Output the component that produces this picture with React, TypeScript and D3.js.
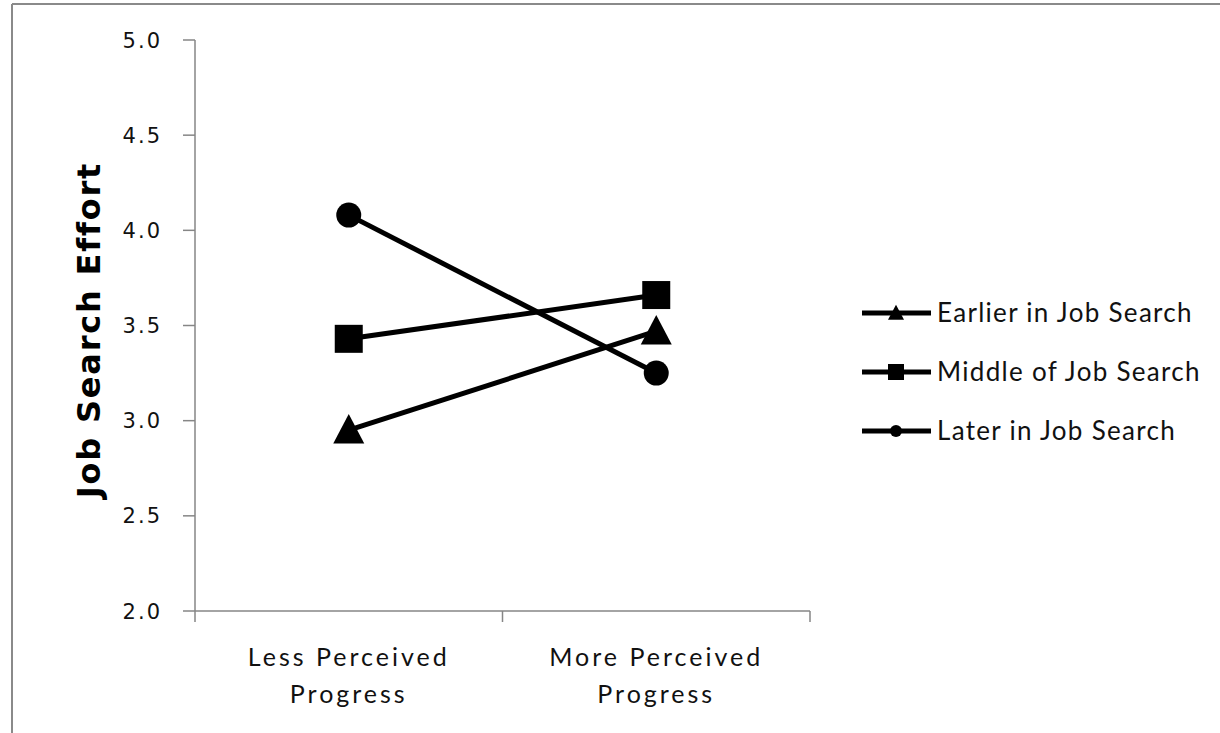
import React from "react";
import * as d3 from "d3";

const categories = ["Less Perceived|Progress", "More Perceived|Progress"];
const seriesNames = ["Earlier in Job Search", "Middle of Job Search", "Later in Job Search"];
const earlierValues = [2.95, 3.47];
const middleValues = [3.43, 3.66];
const laterValues = [4.08, 3.25];
const yTicks = [2.0, 2.5, 3.0, 3.5, 4.0, 4.5, 5.0];
const markerTypes = ["triangle", "square", "circle"];

const W = 1220;
const H = 733;

function Marker({ type, x, y, s }: { type: string; x: number; y: number; s: number }) {
  if (type === "square") {
    return <rect x={x - s / 2} y={y - s / 2} width={s} height={s} fill="#000" />;
  }
  if (type === "circle") {
    return <circle cx={x} cy={y} r={s / 2} fill="#000" />;
  }
  const h = s * 0.95;
  const pts = [
    [x, y - h * 0.55],
    [x + s / 2, y + h * 0.45],
    [x - s / 2, y + h * 0.45],
  ];
  return <polygon points={pts.map((p) => p.join(",")).join(" ")} fill="#000" />;
}

export default function App() {
  const series = [earlierValues, middleValues, laterValues];
  const x = d3.scaleBand<string>().domain(categories).range([195, 810]).padding(0);
  const y = d3.scaleLinear().domain([2, 5]).range([611, 40]);
  const cx = (c: string) => (x(c) as number) + x.bandwidth() / 2;
  const line = d3
    .line<number>()
    .x((_, i) => cx(categories[i]))
    .y((v) => y(v));
  const markerSizes: Record<string, number> = { triangle: 31, square: 28, circle: 25 };
  const legendSizes: Record<string, number> = { triangle: 16, square: 16, circle: 12 };
  const axisColor = "#868686";
  const tickFont = "'DejaVu Sans', Verdana, sans-serif";
  const labelFont = "Lato, 'Open Sans', sans-serif";

  const boundaries = [195, ...categories.map((c) => (x(c) as number) + x.bandwidth())];

  return (
    <svg
      width={W}
      height={H}
      style={{ position: "absolute", left: 0, top: 0, background: "#fff" }}
    >
      <rect x={0} y={0} width={W} height={H} fill="#fff" />
      {/* outer frame */}
      <line x1={12} y1={4} x2={W} y2={4} stroke="#8a8a8a" strokeWidth={2} />
      <line x1={12} y1={4} x2={12} y2={H} stroke="#8a8a8a" strokeWidth={2} />

      {/* y axis */}
      <line x1={195} y1={y(5)} x2={195} y2={y(2)} stroke={axisColor} strokeWidth={1.5} />
      {yTicks.map((t) => (
        <g key={t}>
          <line x1={183} x2={195} y1={y(t)} y2={y(t)} stroke={axisColor} strokeWidth={1.5} />
          <text
            x={162}
            y={y(t)}
            dy="0.36em"
            textAnchor="end"
            fontFamily={tickFont}
            fontSize={21}
            letterSpacing={2}
            fill="#111"
          >
            {t.toFixed(1)}
          </text>
        </g>
      ))}

      {/* x axis */}
      <line x1={195} y1={y(2)} x2={810} y2={y(2)} stroke={axisColor} strokeWidth={1.5} />
      {boundaries.map((b, i) => (
        <line key={i} x1={b} x2={b} y1={y(2)} y2={y(2) + 11} stroke={axisColor} strokeWidth={1.5} />
      ))}
      {categories.map((c) => (
        <text
          key={c}
          x={cx(c)}
          y={666}
          textAnchor="middle"
          fontFamily={labelFont}
          fontSize={25}
          letterSpacing={3}
          fill="#111"
        >
          {c.split("|").map((part, i) => (
            <tspan key={i} x={cx(c)} dy={i === 0 ? 0 : 37}>
              {part}
            </tspan>
          ))}
        </text>
      ))}

      {/* y title */}
      <text
        transform={`translate(100,330) rotate(-90)`}
        textAnchor="middle"
        fontFamily={tickFont}
        fontWeight="bold"
        fontSize={32}
        letterSpacing={1.8}
        fill="#000"
      >
        Job Search Effort
      </text>

      {/* series lines */}
      {series.map((vals, si) => (
        <path key={si} d={line(vals) || ""} fill="none" stroke="#000" strokeWidth={5} />
      ))}
      {series.map((vals, si) =>
        vals.map((v, i) => (
          <Marker
            key={si + "-" + i}
            type={markerTypes[si]}
            x={cx(categories[i])}
            y={y(v)}
            s={markerSizes[markerTypes[si]]}
          />
        ))
      )}

      {/* legend */}
      {seriesNames.map((name, i) => {
        const ly = 313 + i * 59;
        return (
          <g key={name}>
            <line x1={862} x2={931} y1={ly} y2={ly} stroke="#000" strokeWidth={5} />
            <Marker type={markerTypes[i]} x={896} y={ly} s={legendSizes[markerTypes[i]]} />
            <text
              x={937}
              y={ly + 9}
              fontFamily={labelFont}
              fontSize={26}
              letterSpacing={1.3}
              fill="#111"
            >
              {name}
            </text>
          </g>
        );
      })}
    </svg>
  );
}
